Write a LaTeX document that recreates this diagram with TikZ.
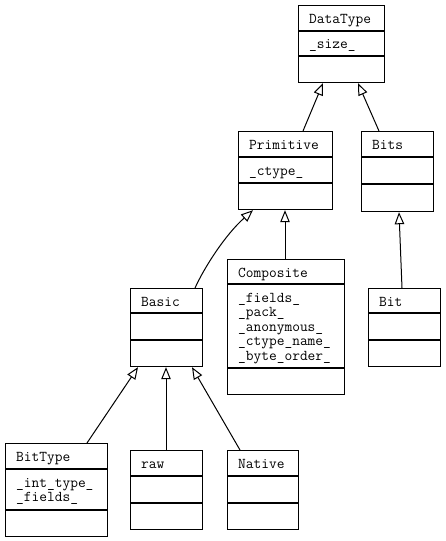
\documentclass[tikz,border=0pt]{standalone}
\usepackage{fontspec}
\usetikzlibrary{arrows.meta,calc}
\begin{document}
\begin{tikzpicture}[x=1pt,y=-1pt,
  cls/.style={draw=black, line width=1.2pt, rectangle, inner sep=0pt, anchor=north west},
  lbl/.style={font=\ttfamily\fontsize{15}{14.4}\selectfont, anchor=base west, inner sep=0pt},
  gen/.style={draw=black, line width=1pt, -{Triangle[open,length=12pt,width=9.5pt,line width=1pt]}},
  divl/.style={draw=black, line width=1.2pt}]
\useasboundingbox[fill=white] (0,0) rectangle (445,541);
% boxes
\node[cls, minimum width=86pt, minimum height=77pt] (dt) at (298,5) {};
\node[cls, minimum width=94pt, minimum height=78pt] (prim) at (238,131) {};
\node[cls, minimum width=72pt, minimum height=80pt] (bits) at (361,131) {};
\node[cls, minimum width=72pt, minimum height=78pt] (basic) at (130,288) {};
\node[cls, minimum width=117pt, minimum height=135pt] (comp) at (227,259) {};
\node[cls, minimum width=72pt, minimum height=78pt] (bit) at (368,288) {};
\node[cls, minimum width=102pt, minimum height=93pt] (bt) at (5,443) {};
\node[cls, minimum width=72pt, minimum height=79pt] (raw) at (130,450) {};
\node[cls, minimum width=71pt, minimum height=79pt] (nat) at (227,450) {};
% dividers
\draw[divl] ($(dt.north west)+(0,26)$) -- ($(dt.north east)+(0,26)$);
\draw[divl] ($(dt.north west)+(0,51)$) -- ($(dt.north east)+(0,51)$);
\draw[divl] ($(prim.north west)+(0,26)$) -- ($(prim.north east)+(0,26)$);
\draw[divl] ($(prim.north west)+(0,52)$) -- ($(prim.north east)+(0,52)$);
\draw[divl] ($(bits.north west)+(0,26)$) -- ($(bits.north east)+(0,26)$);
\draw[divl] ($(bits.north west)+(0,53)$) -- ($(bits.north east)+(0,53)$);
\draw[divl] ($(basic.north west)+(0,25)$) -- ($(basic.north east)+(0,25)$);
\draw[divl] ($(basic.north west)+(0,52)$) -- ($(basic.north east)+(0,52)$);
\draw[divl] ($(comp.north west)+(0,25)$) -- ($(comp.north east)+(0,25)$);
\draw[divl] ($(comp.north west)+(0,109)$) -- ($(comp.north east)+(0,109)$);
\draw[divl] ($(bit.north west)+(0,25)$) -- ($(bit.north east)+(0,25)$);
\draw[divl] ($(bit.north west)+(0,52)$) -- ($(bit.north east)+(0,52)$);
\draw[divl] ($(bt.north west)+(0,26)$) -- ($(bt.north east)+(0,26)$);
\draw[divl] ($(bt.north west)+(0,67)$) -- ($(bt.north east)+(0,67)$);
\draw[divl] ($(raw.north west)+(0,26)$) -- ($(raw.north east)+(0,26)$);
\draw[divl] ($(raw.north west)+(0,53)$) -- ($(raw.north east)+(0,53)$);
\draw[divl] ($(nat.north west)+(0,26)$) -- ($(nat.north east)+(0,26)$);
\draw[divl] ($(nat.north west)+(0,53)$) -- ($(nat.north east)+(0,53)$);
% labels
\node[lbl] (dtT) at (309,23) {DataType};
\node[lbl] (dtA) at (309,48.5) {\_size\_};
\node[lbl] (primT) at (249,149) {Primitive};
\node[lbl] (primA) at (249,175) {\_ctype\_};
\node[lbl] (bitsT) at (372,149) {Bits};
\node[lbl] (basicT) at (141,306) {Basic};
\node[lbl] (compT) at (238,277) {Composite};
\node[lbl] (compA1) at (238,302) {\_fields\_};
\node[lbl] (compA2) at (238,316.5) {\_pack\_};
\node[lbl] (compA3) at (238,331) {\_anonymous\_};
\node[lbl] (compA4) at (238,345.5) {\_ctype\_name\_};
\node[lbl] (compA5) at (238,360) {\_byte\_order\_};
\node[lbl] (bitT) at (379,306) {Bit};
\node[lbl] (btT) at (16,461.5) {BitType};
\node[lbl] (btA1) at (16,487) {\_int\_type\_};
\node[lbl] (btA2) at (16,501.3) {\_fields\_};
\node[lbl] (rawT) at (141,468.5) {raw};
\node[lbl] (natT) at (238,468.5) {Native};
% generalisations
\draw[gen] ($(prim.north west)+(65,0)$) -- ($(dt.south west)+(25,0)$);
\draw[gen] ($(bits.north west)+(18,0)$) -- ($(dt.south west)+(60,0)$);
\draw[gen] ($(basic.north west)+(65,0)$) .. controls ($(basic.north west)+(74,-20)$) and ($(basic.north west)+(95,-53)$) .. ($(prim.south west)+(15,0)$);
\draw[gen] ($(comp.north west)+(58,0)$) -- ($(prim.south west)+(47,0)$);
\draw[gen] ($(bit.north west)+(34,0)$) -- ($(bits.south west)+(38,0)$);
\draw[gen] ($(bt.north west)+(82,0)$) -- ($(basic.south west)+(8,0)$);
\draw[gen] ($(raw.north west)+(36,0)$) -- ($(basic.south west)+(36,0)$);
\draw[gen] ($(nat.north west)+(13,0)$) -- ($(basic.south west)+(62,0)$);
\end{tikzpicture}
\end{document}
